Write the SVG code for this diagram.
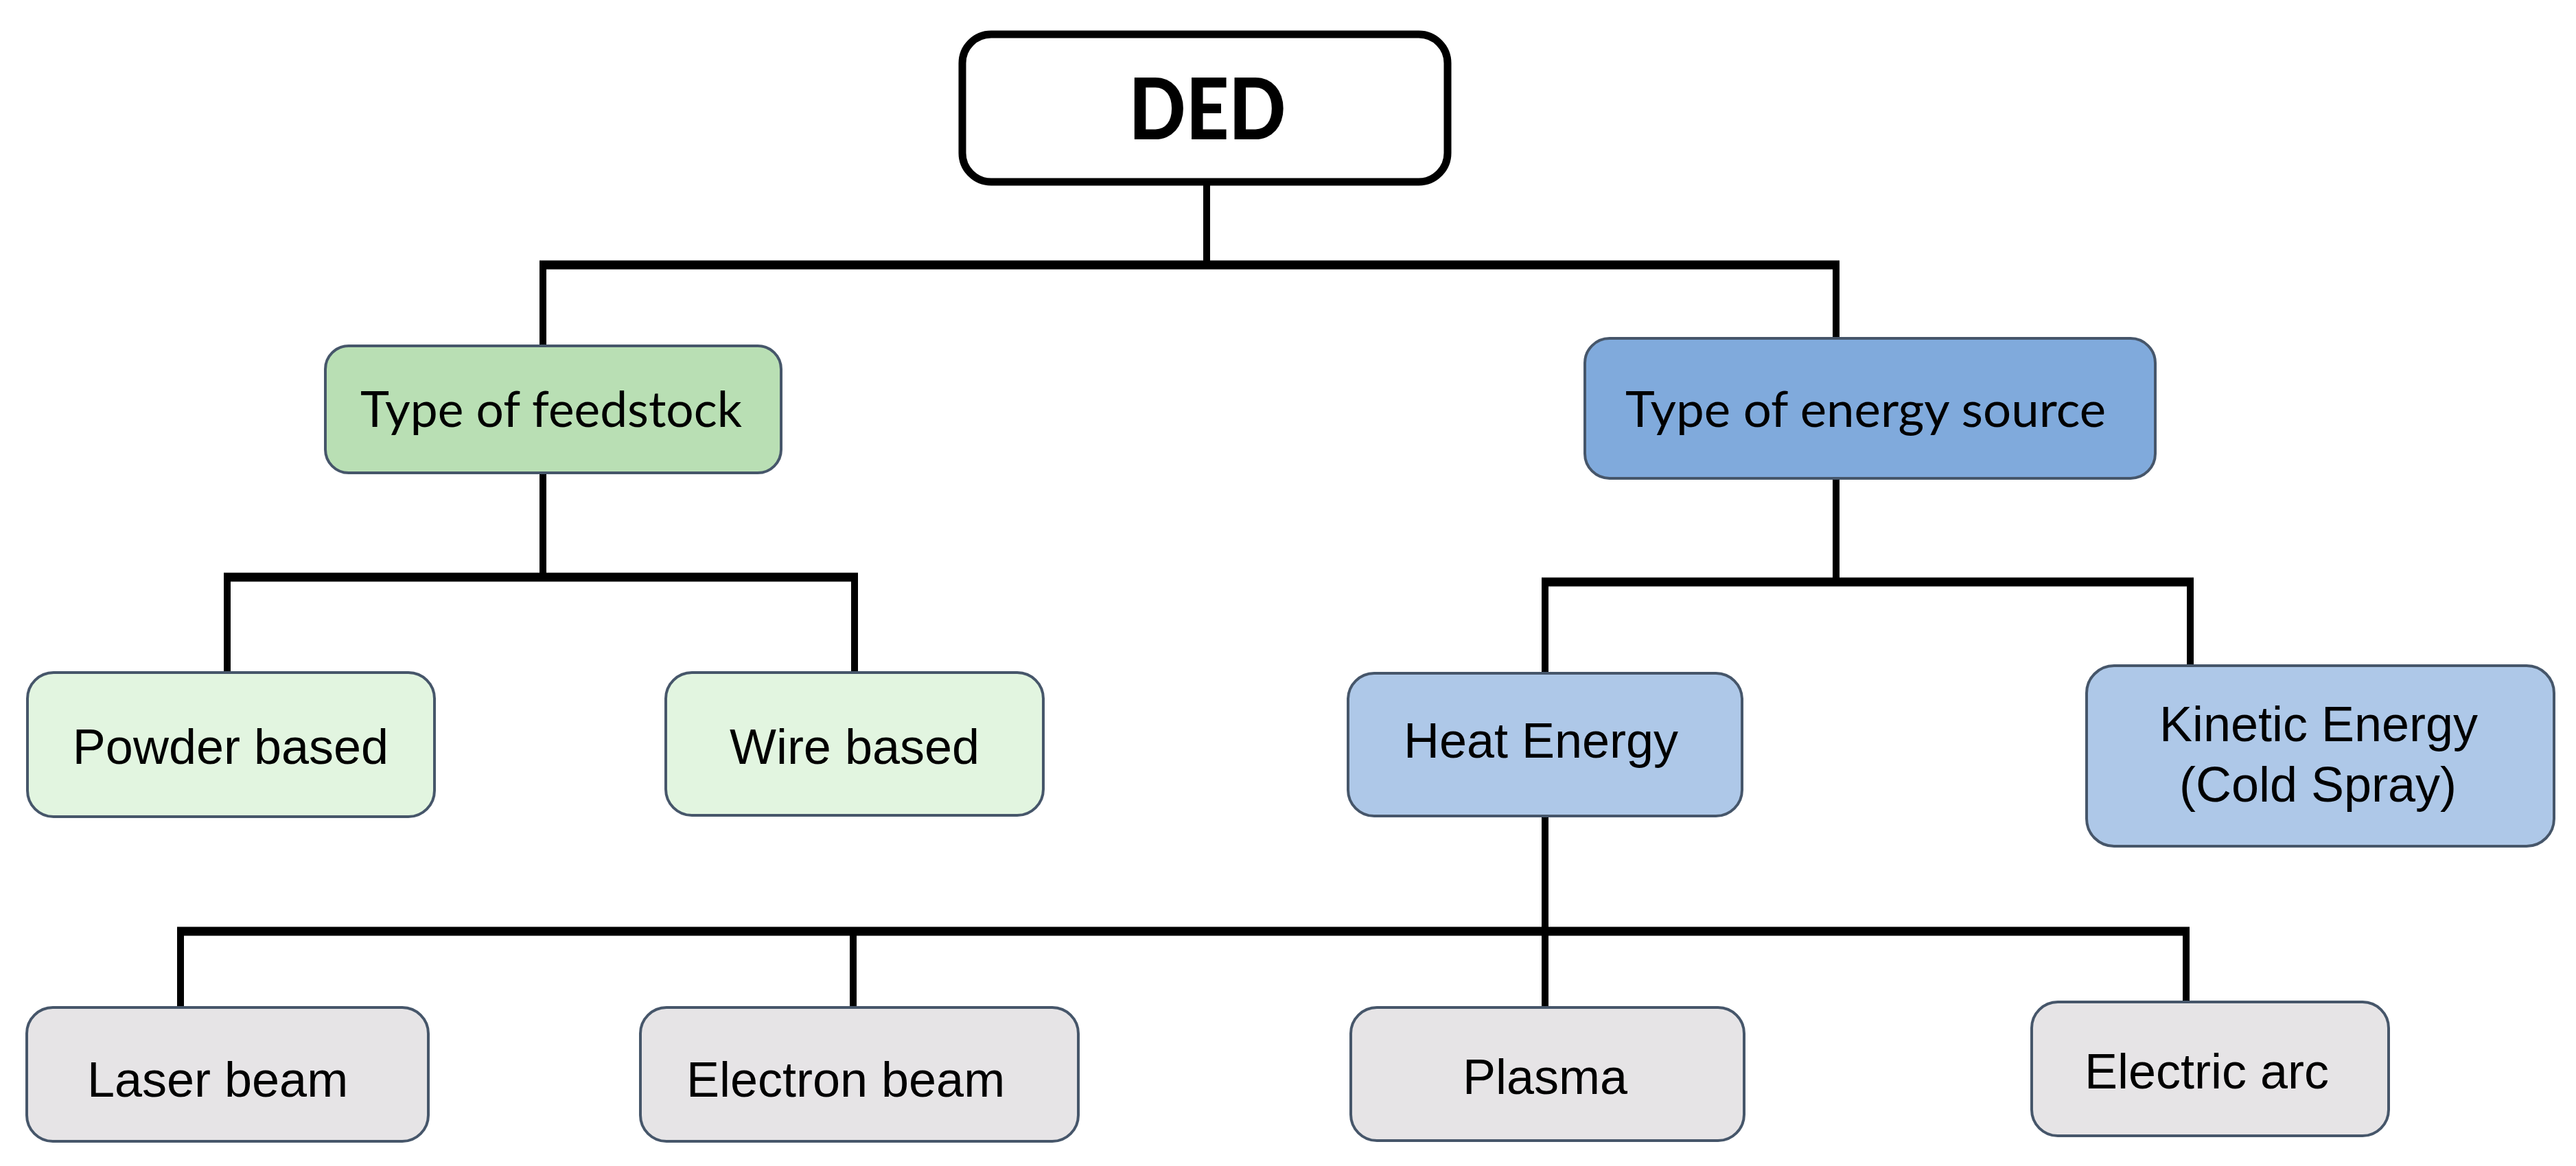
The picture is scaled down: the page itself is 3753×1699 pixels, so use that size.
<svg xmlns="http://www.w3.org/2000/svg" width="3753" height="1699" viewBox="0 0 3753 1699">
<style>
.box{stroke:#46566a;stroke-width:4}
.ded{fill:#ffffff;stroke:#000000;stroke-width:11}
.g1{fill:#b9dfb4}
.g2{fill:#e2f5e0}
.b1{fill:#80aadc}
.b2{fill:#aec8e8}
.gr{fill:#e6e4e6}
.cal{font-family:Lato,"Open Sans",sans-serif;font-size:72px;fill:#000;text-anchor:middle}
.ar{font-family:"Liberation Sans",Arial,sans-serif;font-size:72px;fill:#000;text-anchor:middle}
.hl{stroke:#000;stroke-width:13;fill:none}
.vl{stroke:#000;stroke-width:10;fill:none}
</style>
<rect width="3753" height="1699" fill="#ffffff"/>
<g id="connectors">
<line class="vl" x1="1758" y1="270" x2="1758" y2="386"/>
<line class="hl" x1="786" y1="386" x2="2680" y2="386"/>
<line class="vl" x1="791" y1="386" x2="791" y2="504"/>
<line class="vl" x1="2675" y1="386" x2="2675" y2="493"/>
<line class="vl" x1="791" y1="689" x2="791" y2="841"/>
<line class="hl" x1="326" y1="841" x2="1250" y2="841"/>
<line class="vl" x1="331" y1="841" x2="331" y2="980"/>
<line class="vl" x1="1245" y1="841" x2="1245" y2="980"/>
<line class="vl" x1="2675" y1="697" x2="2675" y2="848"/>
<line class="hl" x1="2246" y1="848" x2="3196" y2="848"/>
<line class="vl" x1="2251" y1="848" x2="2251" y2="981"/>
<line class="vl" x1="3191" y1="848" x2="3191" y2="970"/>
<line class="vl" x1="2251" y1="1189" x2="2251" y2="1468"/>
<line class="hl" x1="258" y1="1357" x2="3190" y2="1357"/>
<line class="vl" x1="263" y1="1357" x2="263" y2="1468"/>
<line class="vl" x1="1243" y1="1357" x2="1243" y2="1468"/>
<line class="vl" x1="3185" y1="1357" x2="3185" y2="1460"/>
</g>
<g id="node-ded">
<rect class="ded" x="1402" y="50" width="707" height="215" rx="42"/>
<text x="1759" y="203" font-family="Lato,'Open Sans',sans-serif" font-weight="900" font-size="123" text-anchor="middle" textLength="229" lengthAdjust="spacingAndGlyphs">DED</text>
</g>
<g id="node-feedstock">
<rect class="box g1" x="474" y="504" width="664" height="185" rx="34"/>
<text class="cal" x="803" y="622" textLength="556" lengthAdjust="spacingAndGlyphs">Type of feedstock</text>
</g>
<g id="node-energy">
<rect class="box b1" x="2309" y="493" width="831" height="204" rx="36"/>
<text class="cal" x="2718" y="622" textLength="700" lengthAdjust="spacingAndGlyphs">Type of energy source</text>
</g>
<g id="node-powder">
<rect class="box g2" x="40" y="980" width="593" height="210" rx="38"/>
<text class="ar" x="336" y="1113">Powder based</text>
</g>
<g id="node-wire">
<rect class="box g2" x="970" y="980" width="550" height="208" rx="38"/>
<text class="ar" x="1245" y="1113">Wire based</text>
</g>
<g id="node-heat">
<rect class="box b2" x="1964" y="981" width="574" height="208" rx="38"/>
<text class="ar" x="2245" y="1104">Heat Energy</text>
</g>
<g id="node-kinetic">
<rect class="box b2" x="3040" y="970" width="681" height="263" rx="40"/>
<text class="ar" x="3378" y="1080">Kinetic Energy</text>
<text class="ar" x="3377" y="1168">(Cold Spray)</text>
</g>
<g id="node-laser">
<rect class="box gr" x="39" y="1468" width="585" height="195" rx="38"/>
<text class="ar" x="317" y="1598">Laser beam</text>
</g>
<g id="node-electron">
<rect class="box gr" x="933" y="1468" width="638" height="195" rx="38"/>
<text class="ar" x="1232" y="1598">Electron beam</text>
</g>
<g id="node-plasma">
<rect class="box gr" x="1968" y="1468" width="573" height="194" rx="38"/>
<text class="ar" x="2251" y="1594">Plasma</text>
</g>
<g id="node-arc">
<rect class="box gr" x="2960" y="1460" width="520" height="195" rx="38"/>
<text class="ar" x="3215" y="1586">Electric arc</text>
</g>
</svg>
